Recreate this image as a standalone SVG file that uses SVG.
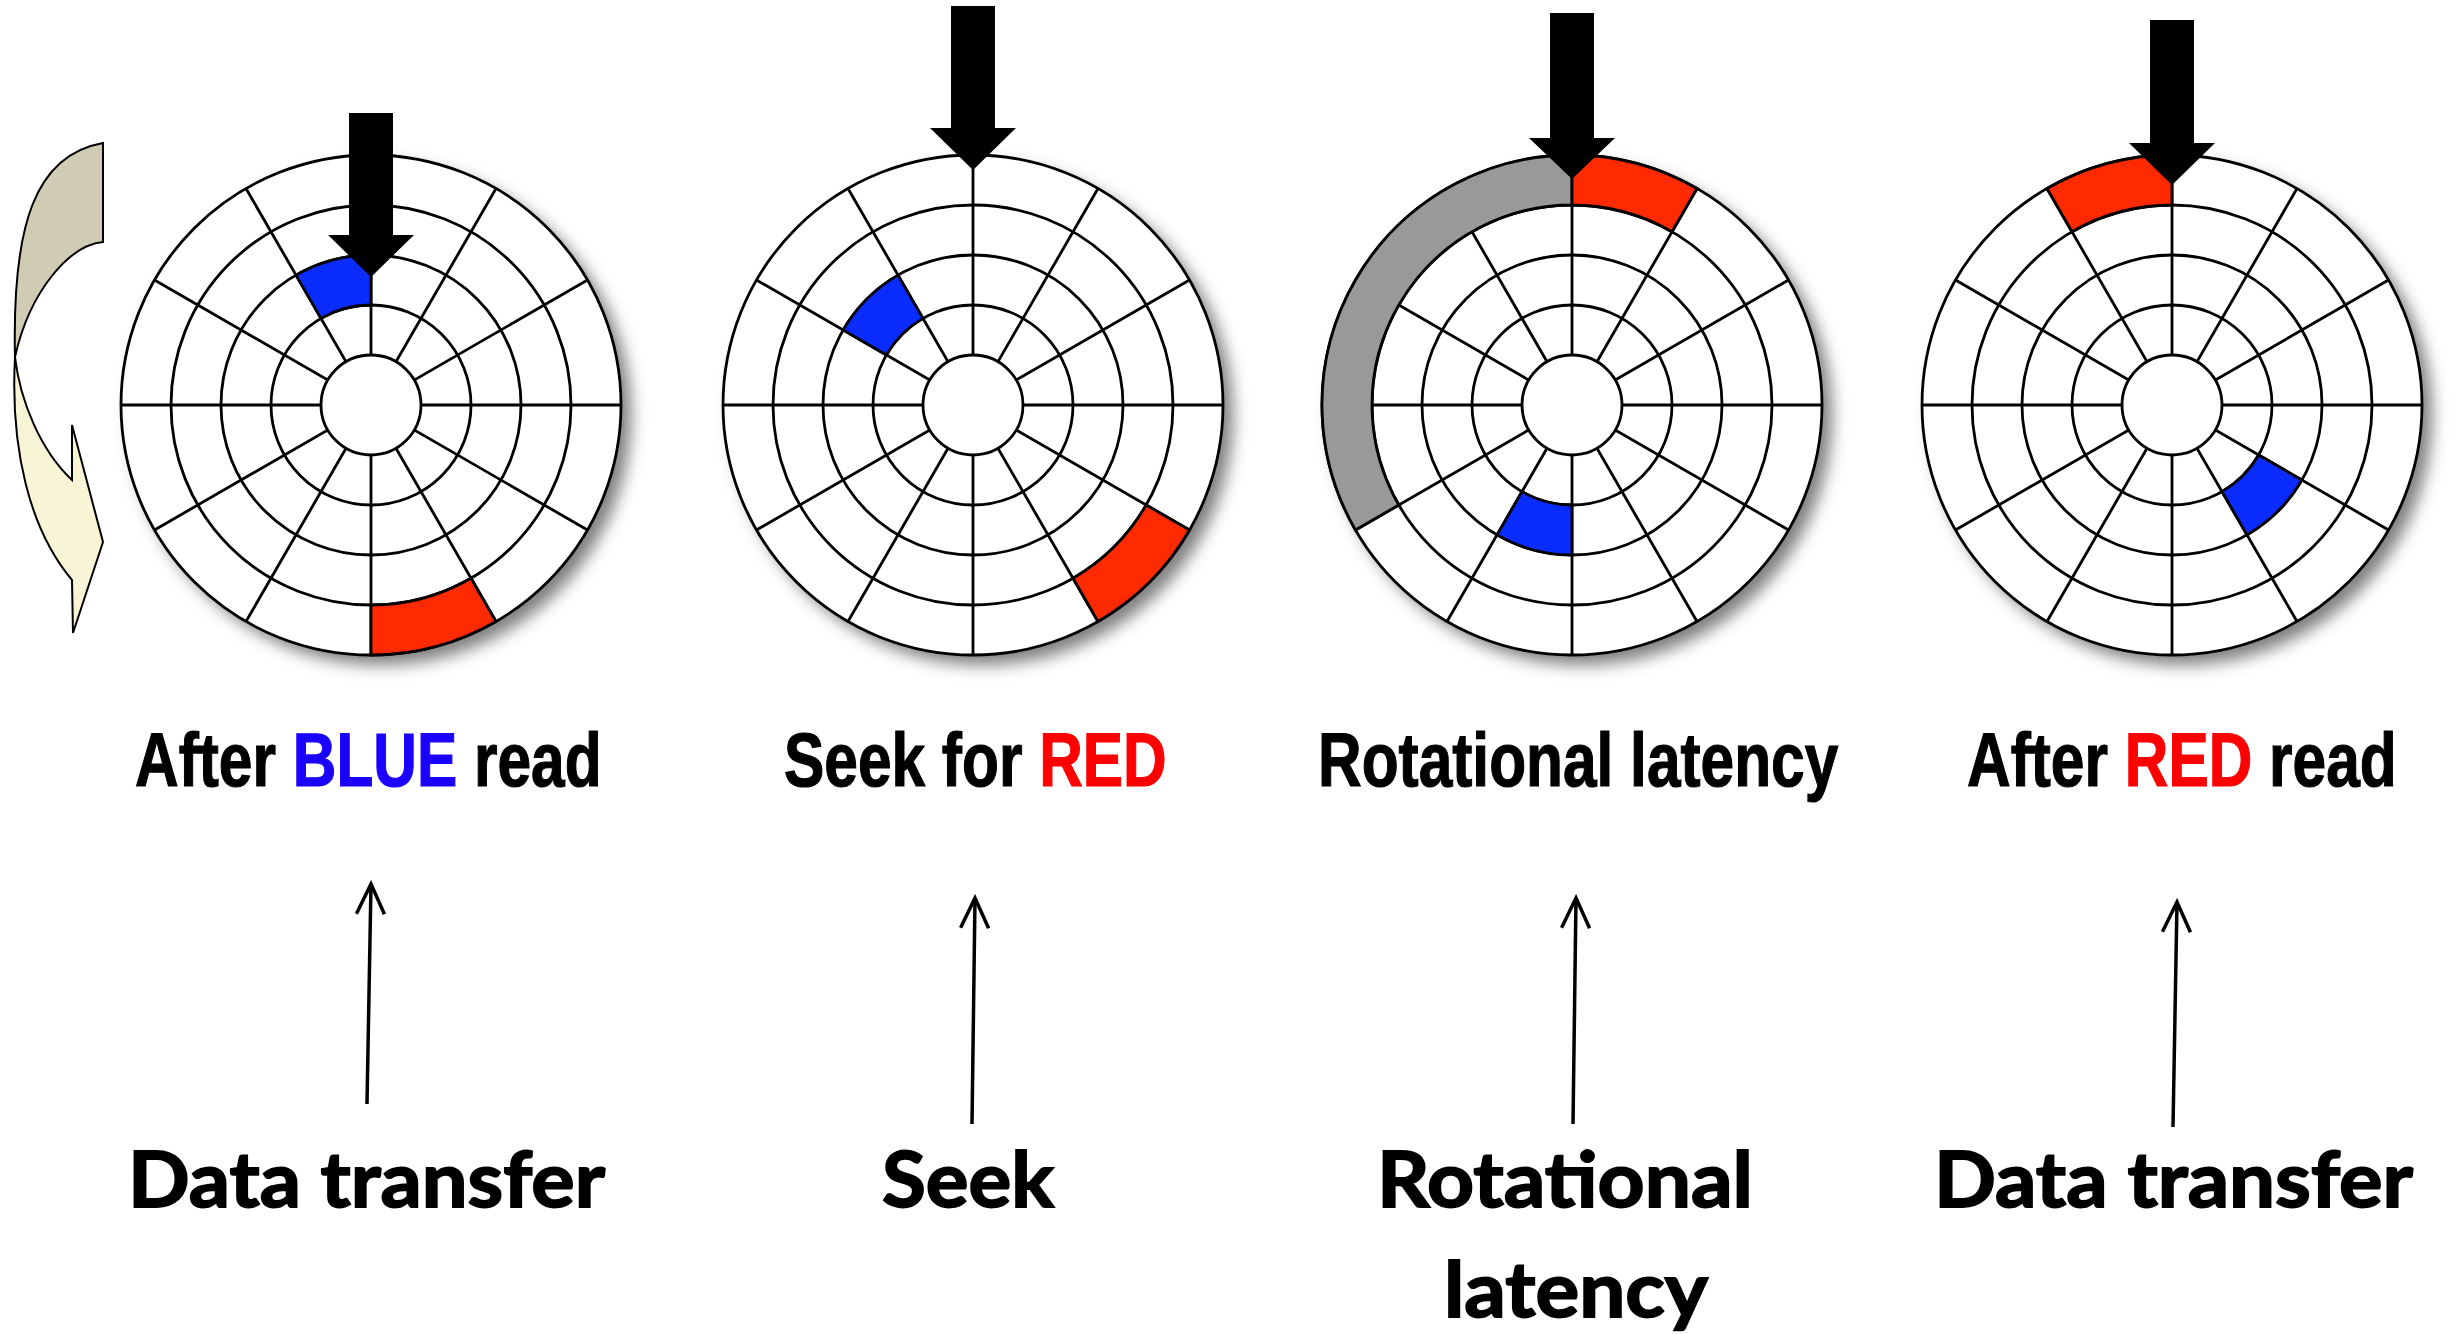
<svg xmlns="http://www.w3.org/2000/svg" xmlns:xlink="http://www.w3.org/1999/xlink" width="2456" height="1334" viewBox="0 0 2456 1334">
<style>
.grid line,.grid circle{stroke:#000;stroke-width:2.8;fill:none}
.grid .hub{fill:#fff}
.base{fill:#fff;filter:url(#shadow)}
.rim{fill:none;stroke:#000;stroke-width:2.8}
.blue{fill:#0a2cff;stroke:#000;stroke-width:2.8}
.red{fill:#ff2a00;stroke:#000;stroke-width:2.8}
.gray{fill:#999;stroke:#000;stroke-width:2.8}
.head{fill:#000}
.lbl{font-family:"Liberation Sans",Arial,sans-serif;font-weight:bold;font-size:76px;fill:#000;stroke:#000;stroke-width:1.2}
.big{font-family:Lato,"Open Sans",sans-serif;font-weight:bold;font-size:76px;fill:#000;stroke:#000;stroke-width:1.8}
.conn{stroke:#000;stroke-width:3.5;fill:none;marker-end:url(#open)}
</style>
<defs>
<filter id="shadow" x="-20%" y="-20%" width="150%" height="150%">
<feDropShadow dx="10" dy="10" stdDeviation="8" flood-color="#000" flood-opacity="0.5"/>
</filter>
<marker id="open" markerUnits="userSpaceOnUse" viewBox="-36 -20 40 40" refX="0" refY="0" markerWidth="40" markerHeight="40" orient="auto">
<path d="M-30,-14 L0,0 L-30,14" fill="none" stroke="#000" stroke-width="3.5"/>
</marker>
<g id="grid" class="grid">
<line x1="0" y1="-250" x2="0" y2="250"/>
<line x1="125" y1="-216.5" x2="-125" y2="216.5"/>
<line x1="216.5" y1="-125" x2="-216.5" y2="125"/>
<line x1="-250" y1="0" x2="250" y2="0"/>
<line x1="216.5" y1="125" x2="-216.5" y2="-125"/>
<line x1="125" y1="216.5" x2="-125" y2="-216.5"/>
<circle r="200"/>
<circle r="150"/>
<circle r="100"/>
<circle class="hub" r="50"/>
</g>
</defs>
<rect width="2456" height="1334" fill="#fff"/>

<g id="rotation-arrow">
<path d="M15,357 C12,225 35,155 103,143 L103,242 C70,245 30,290 15,357 Z" fill="#cfccb3" stroke="#000" stroke-width="2"/>
<path d="M15,357 C20,400 40,450 72,480 L72,425 L103,542 L73,633 L72,580 C30,530 10,450 15,357 Z" fill="#f8f5d6" stroke="#000" stroke-width="2"/>
</g>

<g id="disk1">
<circle class="base" cx="371" cy="405" r="250"/>
<use href="#grid" xlink:href="#grid" x="371" y="405"/>
<circle class="rim" cx="371" cy="405" r="250"/>
<path class="blue" d="M296,275.1 A150,150 0 0 1 371,255 L371,305 A100,100 0 0 0 321,318.4 Z"/>
<path class="red" d="M496,621.5 A250,250 0 0 1 371,655 L371,605 A200,200 0 0 0 471,578.2 Z"/>
<path class="head" d="M349,113 H393 V235 H414 L371,277 L328,235 H349 Z"/>
</g>

<g id="disk2">
<circle class="base" cx="973" cy="405" r="250"/>
<use href="#grid" xlink:href="#grid" x="973" y="405"/>
<circle class="rim" cx="973" cy="405" r="250"/>
<path class="blue" d="M843.1,330 A150,150 0 0 1 898,275.1 L923,318.4 A100,100 0 0 0 886.4,355 Z"/>
<path class="red" d="M1189.5,530 A250,250 0 0 1 1098,621.5 L1073,578.2 A200,200 0 0 0 1146.2,505 Z"/>
<path class="head" d="M951,6 H995 V128 H1016 L973,170 L930,128 H951 Z"/>
</g>

<g id="disk3">
<circle class="base" cx="1572" cy="405" r="250"/>
<use href="#grid" xlink:href="#grid" x="1572" y="405"/>
<circle class="rim" cx="1572" cy="405" r="250"/>
<path class="gray" d="M1355.5,530 A250,250 0 0 1 1572,155 L1572,205 A200,200 0 0 0 1398.8,505 Z"/>
<path class="red" d="M1572,155 A250,250 0 0 1 1697,188.5 L1672,231.8 A200,200 0 0 0 1572,205 Z"/>
<path class="blue" d="M1572,555 A150,150 0 0 1 1497,534.9 L1522,491.6 A100,100 0 0 0 1572,505 Z"/>
<path class="head" d="M1550,13 H1594 V138 H1615 L1572,179 L1529,138 H1550 Z"/>
</g>

<g id="disk4">
<circle class="base" cx="2172" cy="405" r="250"/>
<use href="#grid" xlink:href="#grid" x="2172" y="405"/>
<circle class="rim" cx="2172" cy="405" r="250"/>
<path class="red" d="M2047,188.5 A250,250 0 0 1 2172,155 L2172,205 A200,200 0 0 0 2072,231.8 Z"/>
<path class="blue" d="M2301.9,480 A150,150 0 0 1 2247,534.9 L2222,491.6 A100,100 0 0 0 2258.6,455 Z"/>
<path class="head" d="M2150,20 H2194 V143 H2215 L2172,185 L2129,143 H2150 Z"/>
</g>

<g id="captions">
<text class="lbl" transform="translate(135,786) scale(0.795,1)">After <tspan fill="#1a00ff" stroke="#1a00ff">BLUE</tspan> read</text>
<text class="lbl" transform="translate(784,786) scale(0.795,1)">Seek for <tspan fill="#ff0000" stroke="#ff0000">RED</tspan></text>
<text class="lbl" transform="translate(1318,786) scale(0.795,1)">Rotational latency</text>
<text class="lbl" transform="translate(1967,786) scale(0.795,1)">After <tspan fill="#ff0000" stroke="#ff0000">RED</tspan> read</text>
</g>

<g id="phases">
<text class="big" x="128" y="1207" textLength="477" lengthAdjust="spacingAndGlyphs">Data transfer</text>
<text class="big" x="882" y="1207" textLength="172" lengthAdjust="spacingAndGlyphs">Seek</text>
<text class="big" x="1377" y="1207" textLength="376" lengthAdjust="spacingAndGlyphs">Rotational</text>
<text class="big" x="1444" y="1317" textLength="264" lengthAdjust="spacingAndGlyphs">latency</text>
<text class="big" x="1934" y="1207" textLength="479" lengthAdjust="spacingAndGlyphs">Data transfer</text>
</g>

<g id="connectors">
<line class="conn" x1="367" y1="1104" x2="371" y2="884"/>
<line class="conn" x1="972" y1="1124" x2="975" y2="898"/>
<line class="conn" x1="1573" y1="1124" x2="1576" y2="898"/>
<line class="conn" x1="2173" y1="1127" x2="2177" y2="902"/>
</g>
</svg>
